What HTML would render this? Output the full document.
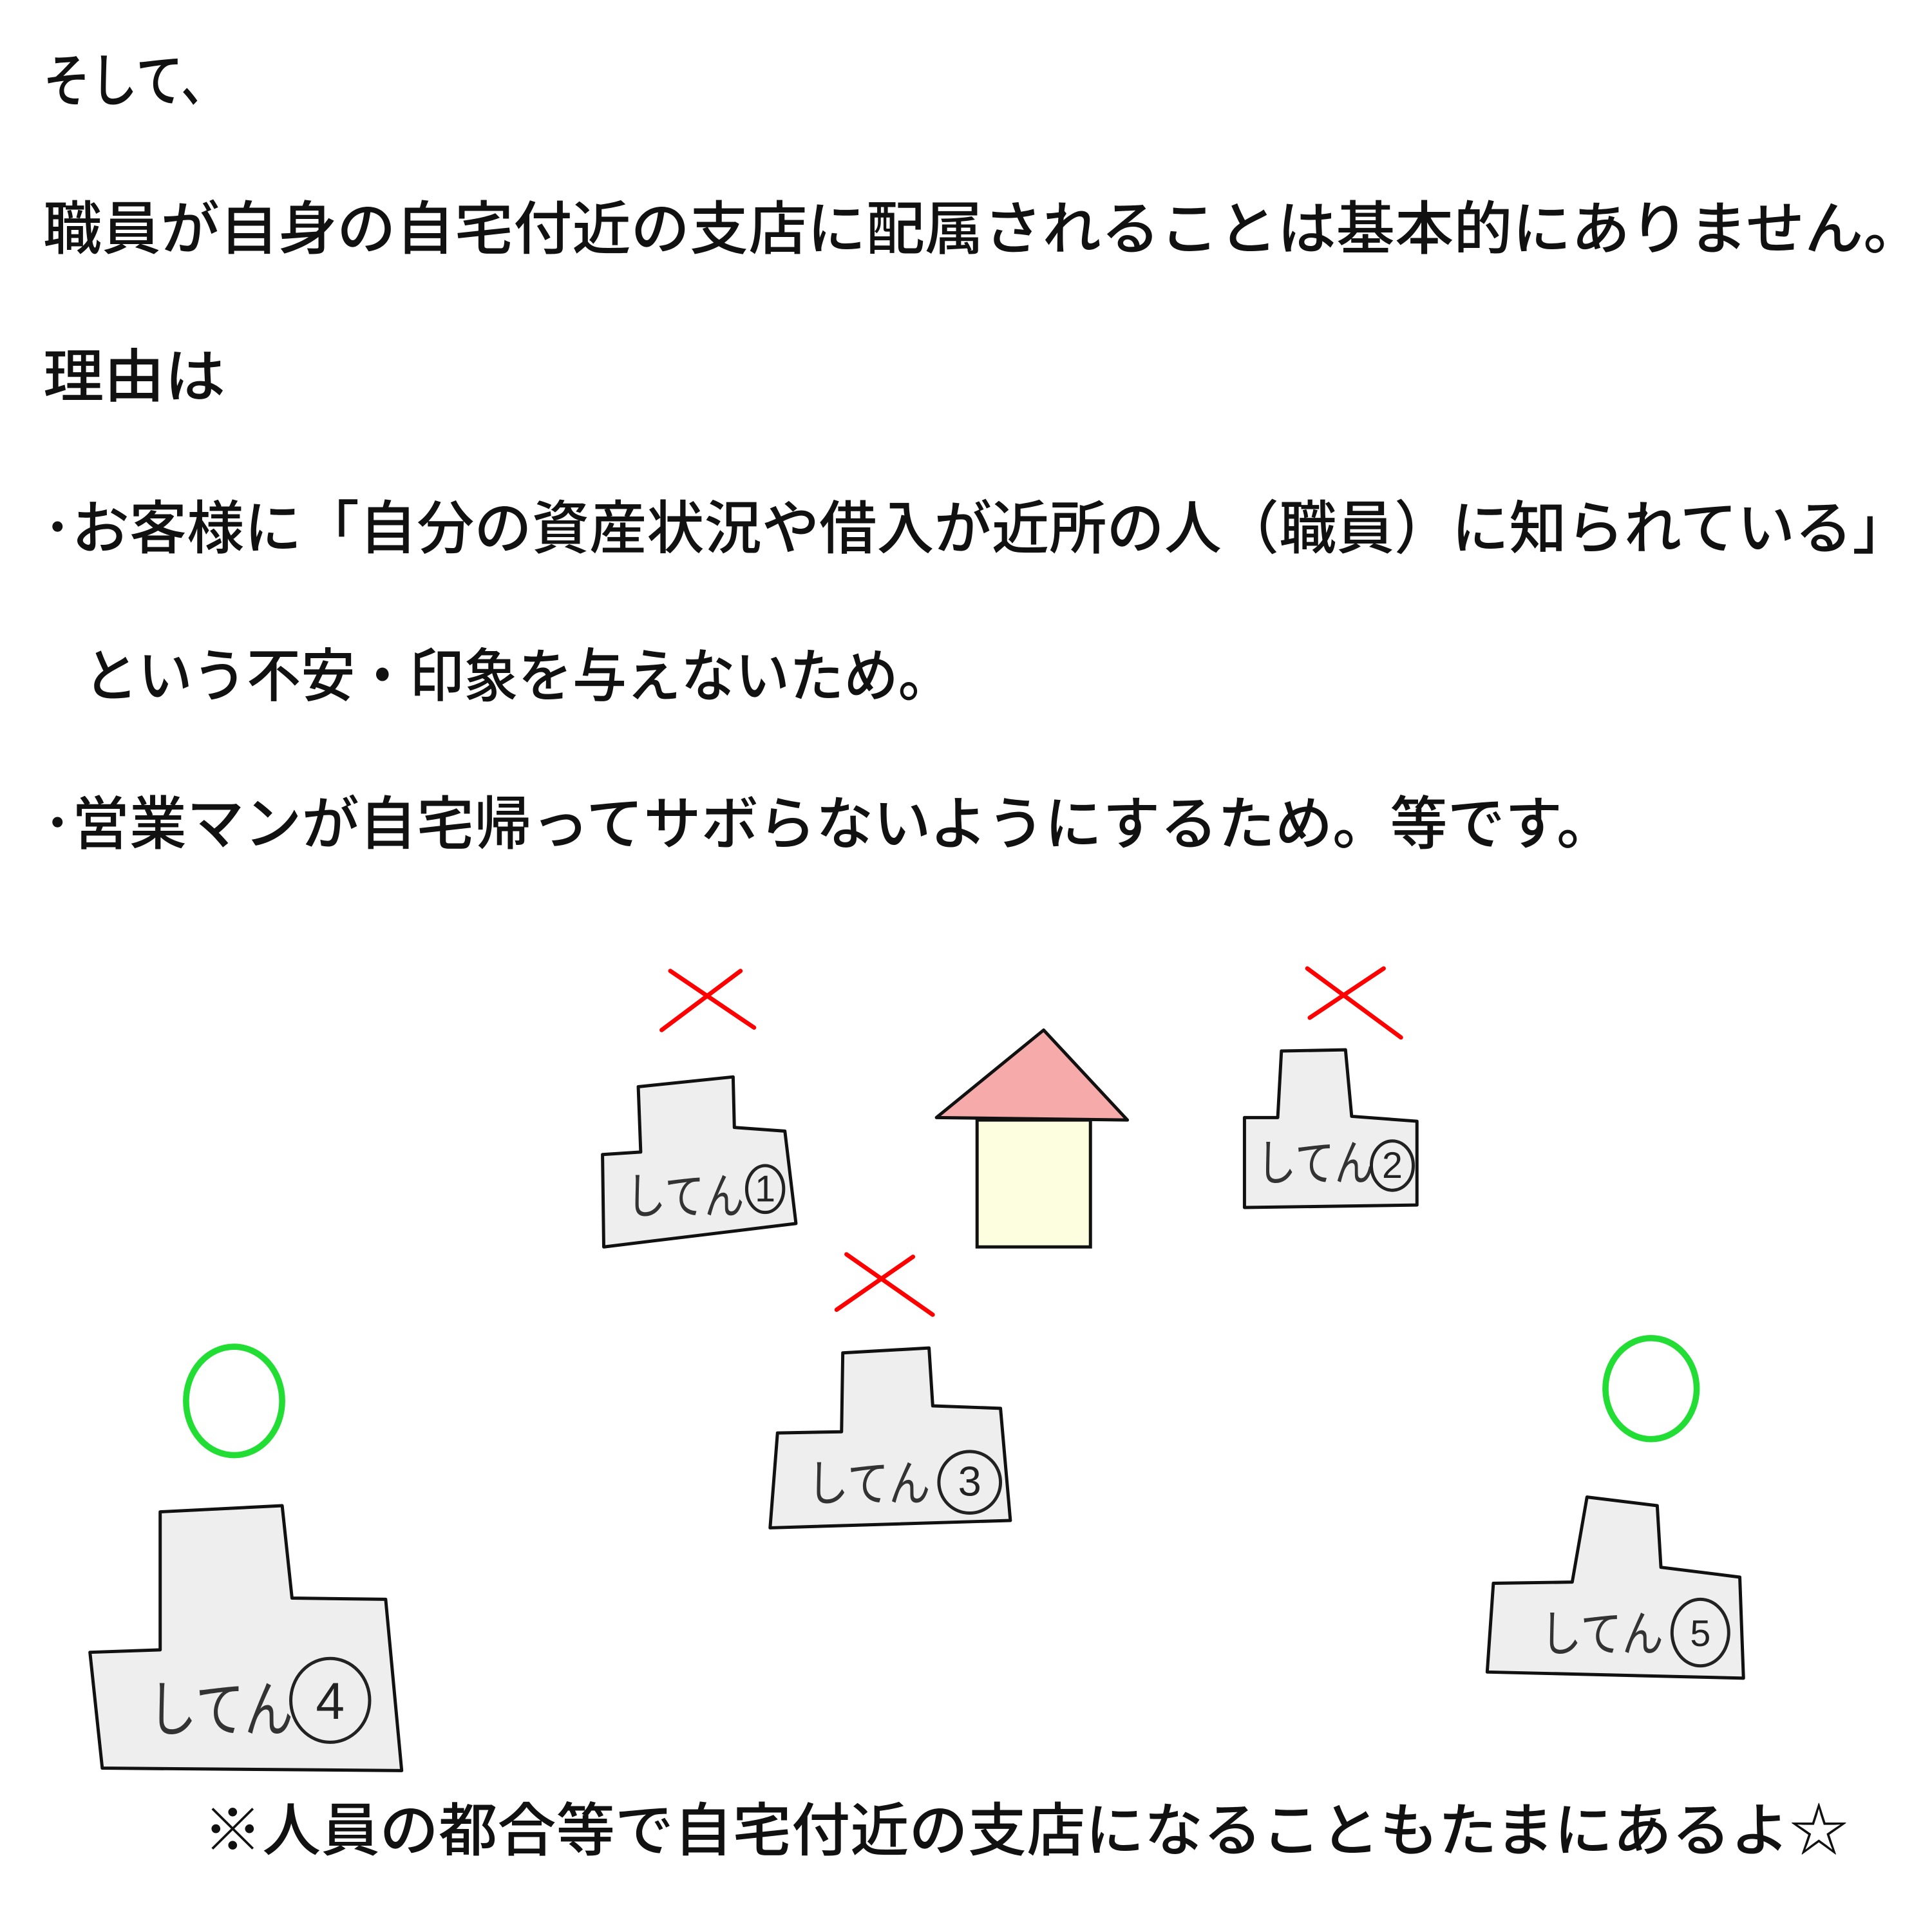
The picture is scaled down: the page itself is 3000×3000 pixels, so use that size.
<!DOCTYPE html>
<html><head><meta charset="utf-8"><style>
html,body{margin:0;padding:0;background:#fff;}
svg{display:block;width:3000px;height:3000px;}
text{font-family:"Liberation Sans","Noto Sans CJK JP",sans-serif;fill:#111;}
.t{font-size:47px;font-weight:500;}
.s{fill:#eeeeee;stroke:#111;stroke-width:2.6;stroke-linejoin:round;}
.x{stroke:#f00;stroke-width:3.5;stroke-linecap:round;}
.g{fill:none;stroke:#22dd33;stroke-width:5;}
.l{font-size:40px;fill:#333;}
.c{fill:none;stroke:#222;stroke-width:2.6;}
.d{font-size:30px;fill:#222;text-anchor:middle;}
</style></head><body>
<svg viewBox="0 0 1568 1568" xmlns="http://www.w3.org/2000/svg">
<rect width="1568" height="1568" fill="#fff"/>
<text class="t" x="35" y="82" textLength="150" lengthAdjust="spacingAndGlyphs">そして、</text>
<text class="t" x="35" y="202" textLength="1525" lengthAdjust="spacingAndGlyphs">職員が自身の自宅付近の支店に配属されることは基本的にありません。</text>
<text class="t" x="35" y="322" textLength="148" lengthAdjust="spacingAndGlyphs">理由は</text>
<text class="t" x="35" y="445" textLength="1515" lengthAdjust="spacingAndGlyphs">･お客様に「自分の資産状況や借入が近所の人（職員）に知られている」</text>
<text class="t" x="68" y="565" textLength="705" lengthAdjust="spacingAndGlyphs">という不安・印象を与えないため。</text>
<text class="t" x="35" y="685" textLength="1275" lengthAdjust="spacingAndGlyphs">･営業マンが自宅帰ってサボらないようにするため。等です。</text>
<text class="t" x="165" y="1502" textLength="1335" lengthAdjust="spacingAndGlyphs">※人員の都合等で自宅付近の支店になることもたまにあるよ☆</text>

<line class="x" x1="537" y1="836" x2="601" y2="788"/><line class="x" x1="544" y1="788" x2="612" y2="834"/>
<line class="x" x1="1063" y1="826" x2="1123" y2="786"/><line class="x" x1="1061" y1="786" x2="1137" y2="842"/>
<line class="x" x1="679" y1="1063" x2="741" y2="1020"/><line class="x" x1="687" y1="1018" x2="757" y2="1067"/>

<ellipse class="g" cx="190" cy="1137" rx="39" ry="44"/>
<ellipse class="g" cx="1340" cy="1127" rx="37" ry="41"/>

<polygon points="760,907 847,836 915,909" fill="#f7aaaa" stroke="#111" stroke-width="2.6" stroke-linejoin="round"/>
<rect x="793" y="909" width="92" height="103" fill="#fdfde0" stroke="#111" stroke-width="2.6"/>

<polygon class="s" points="518,882 595,874 596,915 637,918 646,993 490,1012 489,937 520,935"/>
<text class="l" x="508" y="985" textLength="96" lengthAdjust="spacingAndGlyphs">してん</text>
<ellipse class="c" cx="621" cy="965" rx="15" ry="19"/><text class="d" x="621" y="975">1</text>

<polygon class="s" points="1040,853 1092,852 1097,906 1150,910 1150,978 1010,980 1010,907 1037,907"/>
<text class="l" x="1020" y="958" textLength="95" lengthAdjust="spacingAndGlyphs">してん</text>
<ellipse class="c" cx="1130" cy="946" rx="17" ry="20"/><text class="d" x="1130" y="956">2</text>

<polygon class="s" points="684,1098 754,1094 757,1141 812,1143 820,1234 625,1240 631,1163 683,1162"/>
<text class="l" x="655" y="1218" textLength="100" lengthAdjust="spacingAndGlyphs">してん</text>
<ellipse class="c" cx="787" cy="1203" rx="25" ry="25"/><text class="d" x="787" y="1214" style="font-size:34px">3</text>

<polygon class="s" points="130,1227 229,1222 237,1297 313,1298 326,1437 83,1435 73,1341 130,1339"/>
<text class="l" x="120" y="1405" textLength="118" lengthAdjust="spacingAndGlyphs" style="font-size:50px">してん</text>
<ellipse class="c" cx="268" cy="1380" rx="32" ry="34"/><text class="d" x="268" y="1395" style="font-size:42px">4</text>

<polygon class="s" points="1288,1215 1345,1222 1348,1272 1412,1280 1415,1362 1207,1357 1212,1285 1276,1284"/>
<text class="l" x="1250" y="1340" textLength="100" lengthAdjust="spacingAndGlyphs">してん</text>
<ellipse class="c" cx="1380" cy="1325" rx="23" ry="27"/><text class="d" x="1380" y="1336">5</text>
</svg>
</body></html>
